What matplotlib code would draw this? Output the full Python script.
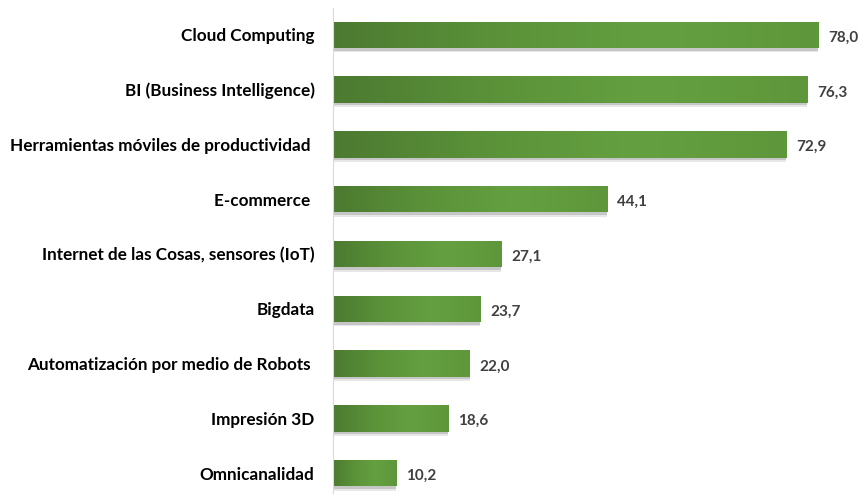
import numpy as np
import matplotlib.pyplot as plt
from matplotlib.colors import LinearSegmentedColormap

categories = [
    'Cloud Computing',
    'BI (Business Intelligence)',
    'Herramientas móviles de productividad ',
    'E-commerce ',
    'Internet de las Cosas, sensores (IoT)',
    'Bigdata',
    'Automatización por medio de Robots ',
    'Impresión 3D',
    'Omnicanalidad',
]
values = [78.0, 76.3, 72.9, 44.1, 27.1, 23.7, 22.0, 18.6, 10.2]

plt.rcParams['font.family'] = ['Lato', 'DejaVu Sans']

fig = plt.figure(figsize=(8.64, 4.94), dpi=100)
ax = fig.add_axes([0.385, 0.0, 0.615, 0.984])

bar_h = 0.48
green = LinearSegmentedColormap.from_list('g', ['#4c7a31', '#5b9239', '#64a041', '#5e973b'])
grad = np.linspace(0, 1, 256).reshape(1, -1)

ys = np.arange(len(values))
# soft drop shadow under the bars
for off, a in [(0.05, 0.35), (0.08, 0.2)]:
    ax.barh(ys + off, values, height=bar_h, color='#8a8a8a', alpha=a, zorder=1)
bars = ax.barh(ys, values, height=bar_h, color='none', zorder=2)
for b in bars:
    x0, y0 = b.get_x(), b.get_y()
    w, h = b.get_width(), b.get_height()
    im = ax.imshow(grad, cmap=green, aspect='auto', extent=[x0, x0 + w, y0 + h, y0],
                   zorder=2)
    im.set_clip_path(b)

for y, v in zip(ys, values):
    ax.text(v + 1.6, y + 0.05, f'{v:.1f}'.replace('.', ','), va='center', ha='left',
            fontsize=11, fontweight='bold', color='#404040')

ax.set_xlim(0, 85.4)
ax.set_ylim(8.38, -0.49)
ax.set_yticks(ys)
ax.set_yticklabels(categories, fontsize=12.3, fontweight='bold', color='black')
ax.tick_params(axis='y', length=0, pad=13)
ax.set_xticks([])
for s in ['top', 'right', 'bottom']:
    ax.spines[s].set_visible(False)
ax.spines['left'].set_color('#d9d9d9')

fig.savefig('out.png', dpi=100)
